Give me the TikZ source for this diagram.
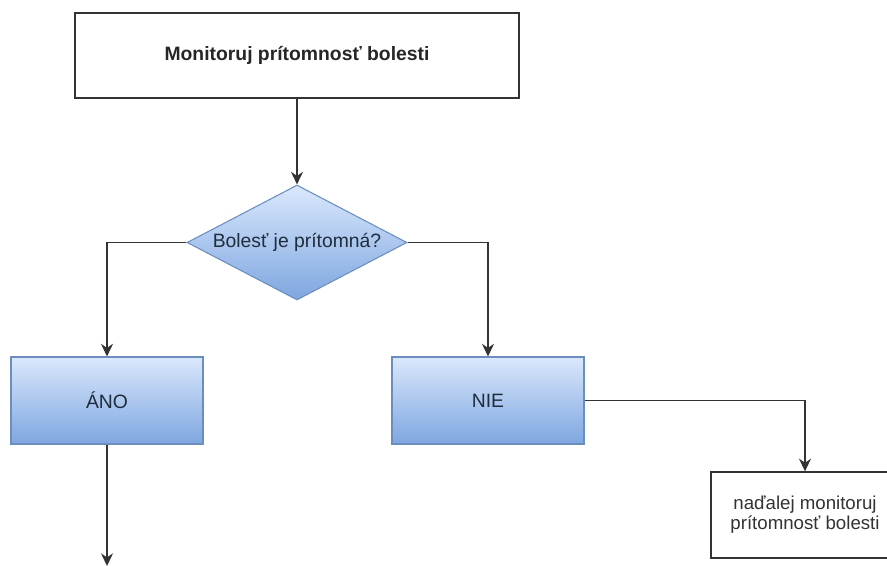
\documentclass[tikz,border=0pt]{standalone}
\usepackage{fontspec}
\setmainfont{Liberation Sans}
\usetikzlibrary{arrows.meta,shapes.geometric,positioning}

\definecolor{boxtop}{HTML}{DAE8FC}
\definecolor{boxbot}{HTML}{7EA6E0}
\definecolor{boxline}{HTML}{6C8EBF}
\definecolor{linegray}{HTML}{333333}
\definecolor{txtblue}{HTML}{1F2D3D}

\tikzset{
  plainbox/.style={draw=linegray, line width=1pt, fill=white, inner sep=2pt, align=center},
  bluebox/.style={draw=boxline, line width=0.8pt, top color=boxtop, bottom color=boxbot,
    text=txtblue, font=\fontsize{14.5}{17}\selectfont,
    minimum width=144pt, minimum height=65.25pt},
  connector/.style={draw=linegray, line width=1.1pt, -{Stealth[length=9.5pt,width=9pt]}}
}

\begin{document}
\begin{tikzpicture}[x=0.75pt, y=-0.75pt]
\useasboundingbox (0,0) rectangle (887,566);
\node[plainbox, minimum width=333pt, minimum height=63.75pt,
  font=\bfseries\fontsize{14.5}{17}\selectfont, text=black!85] (monitor) at (297,55.5) {Monitoruj prítomnosť bolesti};
\node[diamond, aspect=1.91, inner sep=0pt, draw=boxline, line width=0.8pt,
  top color=boxtop, bottom color=boxbot, text=txtblue, font=\fontsize{14.5}{17}\selectfont,
  minimum width=165pt, minimum height=86.25pt] (question) at (297,242.5) {Bolesť je prítomná?};
\node[bluebox] (ano) at (107,400.5) {ÁNO};
\node[bluebox] (nie) at (488,400.5) {NIE};
% box runs off the right edge of the page
\node[draw=linegray, line width=1pt, fill=white, inner sep=2pt, minimum width=171pt, minimum height=64.5pt,
  font=\fontsize{14}{15}\selectfont, text=black!80] (further) at (825,515)
  {\hspace*{-30pt}\begin{tabular}{@{}c@{}}naďalej monitoruj\\prítomnosť bolesti\end{tabular}};
\coordinate (anoend) at (107,566);

\draw[connector] (monitor) -- (question);
\draw[connector] (question.west) -| (ano.north);
\draw[connector] (question.east) -| (nie.north);
\draw[connector] (nie.east) -| (further.north-|805,0);
\draw[connector] (ano.south) -- (anoend);
\end{tikzpicture}
\end{document}
